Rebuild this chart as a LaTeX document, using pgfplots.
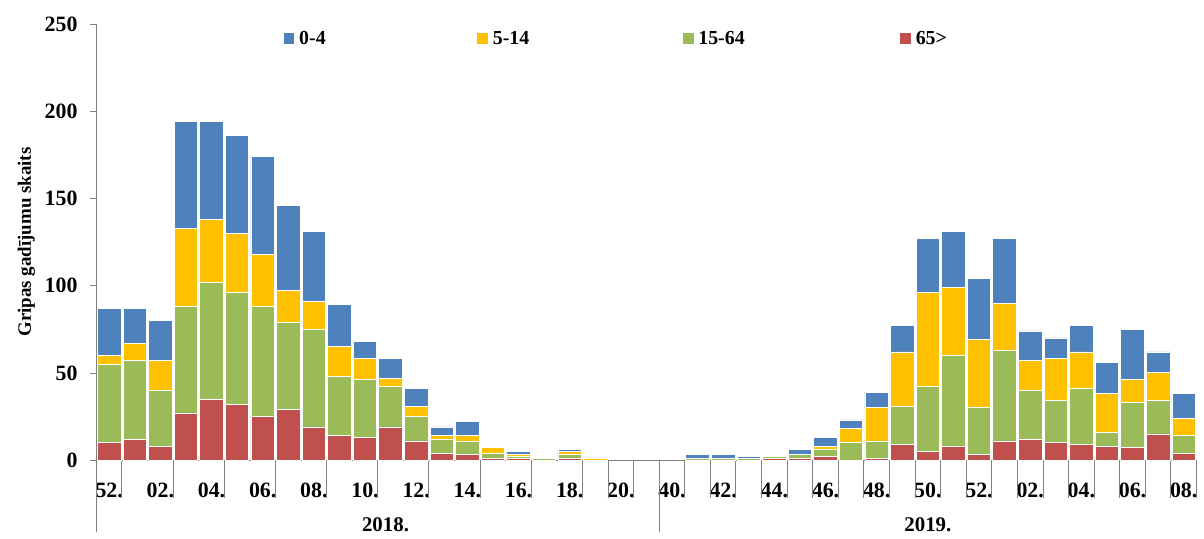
\documentclass[border=0pt]{standalone}
\usepackage{pgfplots}
\usepackage{pgfplotstable}
\pgfplotsset{compat=1.18}
\usepackage{fontspec}
\setmainfont{Liberation Serif}
\definecolor{cblue}{HTML}{4F81BD}
\definecolor{cyel}{HTML}{FFC000}
\definecolor{cgreen}{HTML}{9BBB59}
\definecolor{cred}{HTML}{C0504D}
\pgfplotstableread{
x red green yellow blue
0 10 45 5 27
1 12 45 10 20
2 8 32 17 23
3 27 61 45 61
4 35 67 36 56
5 32 64 34 56
6 25 63 30 56
7 29 50 18 49
8 19 56 16 40
9 14 34 17 24
10 13 33 12 10
11 19 23 5 11
12 11 14 6 10
13 4 8 2 5
14 3 8 3 8
15 1 3 3 1
16 1 1 1 2
17 0 1 0 0
18 1 2 2 1
19 0 0 1 0
20 0 0 0 0
21 0 0 0 0
22 0 0 0 0
23 0 1 0 2
24 0 1 0 2
25 0 1 0 1
26 1 1 0 0
27 1 2 0 3
28 2 4 2 5
29 0 10 8 5
30 1 10 19 9
31 9 22 31 15
32 5 37 54 31
33 8 52 39 32
34 3 27 39 35
35 11 52 27 37
36 12 28 17 17
37 10 24 24 12
38 9 32 21 15
39 8 8 22 18
40 7 26 13 29
41 15 19 16 12
42 4 10 10 14
}\data
\begin{document}
\fontsize{10}{12}\selectfont
\begin{tikzpicture}
\begin{axis}[name=ax,
  scale only axis, width=553.5pt, height=219.5pt,
  xmin=-0.5, xmax=42.5, ymin=0, ymax=250,
  ytick={0,50,...,250},
  ybar stacked, bar width=0.92,
  axis x line=bottom, axis y line=left,
  axis line style={-, gray}, clip=false,
  tick align=outside, ytick style={gray}, major tick length=3pt,
  xtick style={draw=none},
  /pgf/number format/assume math mode=true,
  ticklabel style={font=\fontsize{11}{13}\selectfont\bfseries},
  yticklabel style={xshift=-3pt},
  xtick={0,2,...,20,22,24,...,42},
  xticklabels={52.,02.,04.,06.,08.,10.,12.,14.,16.,18.,20.,40.,42.,44.,46.,48.,50.,52.,02.,04.,06.,08.},
  xticklabel style={yshift=-5pt},
  ylabel={\bfseries Gripas gadījumu skaits},
  ylabel style={font=\fontsize{9.5}{11}\selectfont, yshift=-2pt},
  legend columns=4, reverse legend, area legend,
  legend image code/.code={\fill[#1] (0cm,-2.8pt) rectangle (6pt,3.2pt);},
  legend style={draw=none, at={(0.473,0.965)}, anchor=center, font=\fontsize{10}{12}\selectfont\bfseries,
    /tikz/every even column/.style={column sep=1pt}},
  every axis plot/.append style={draw=white, line width=0.4pt},
]
\addplot[fill=cred] table[y=red] {\data};
\addplot[fill=cgreen] table[y=green] {\data};
\addplot[fill=cyel] table[y=yellow] {\data};
\addplot[fill=cblue] table[y=blue] {\data};
\legend{65>,\makebox[98pt][l]{15-64},\makebox[92pt][l]{5-14},\makebox[86pt][l]{0-4}}
\pgfplotsinvokeforeach{0.5,2.5,4.5,6.5,8.5,10.5,12.5,14.5,16.5,18.5,19.5,20.5,22.5,23.5,24.5,25.5,26.5,27.5,28.5,29.5,30.5,31.5,32.5,33.5,34.5,35.5,36.5,37.5,38.5,39.5,40.5,41.5,42.5}{
  \draw[gray, line width=0.5pt] (axis cs:#1,0) -- ([yshift=-19pt]axis cs:#1,0);
}
\draw[gray, line width=0.5pt] (axis cs:-0.5,0) -- ([yshift=-36pt]axis cs:-0.5,0);
\draw[gray, line width=0.5pt] (axis cs:21.5,0) -- ([yshift=-36pt]axis cs:21.5,0);
\node[font=\fontsize{10.5}{12}\selectfont\bfseries] at ([yshift=-32.5pt]axis cs:10.8,0) {2018.};
\node[font=\fontsize{10.5}{12}\selectfont\bfseries] at ([yshift=-32.5pt]axis cs:32,0) {2019.};
\end{axis}
\useasboundingbox ([xshift=-48.5pt,yshift=-36pt]ax.south west) rectangle ([yshift=12pt]ax.north east);
\end{tikzpicture}
\end{document}
